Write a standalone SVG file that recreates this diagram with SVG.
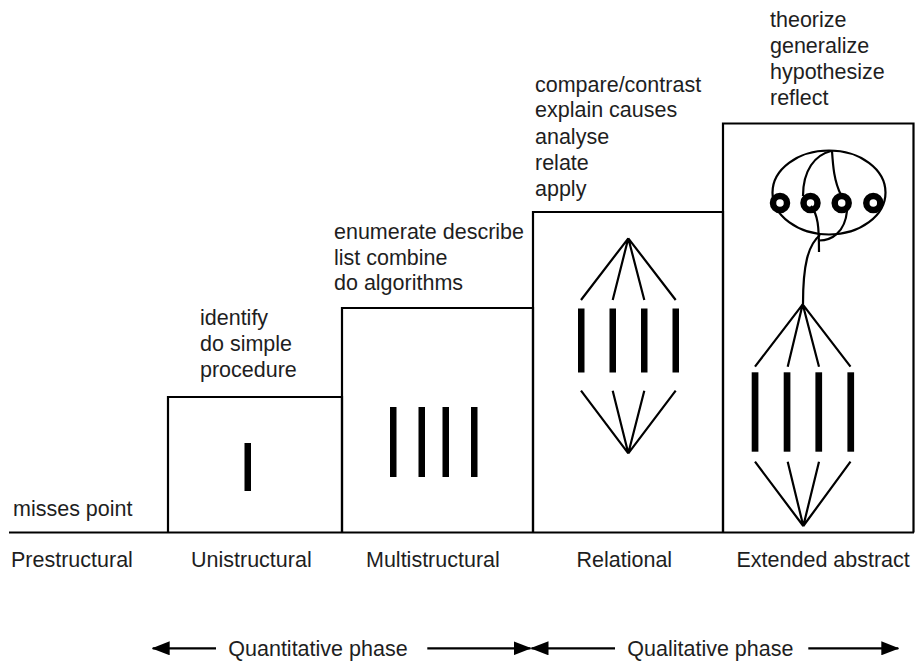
<svg xmlns="http://www.w3.org/2000/svg" width="917" height="663" viewBox="0 0 917 663">
<defs>
<style>
.t{font-family:"Liberation Sans",Arial,sans-serif;font-size:21.5px;fill:#1e1e1e}
.box{fill:none;stroke:#000;stroke-width:2.2}
.ln{fill:none;stroke:#000;stroke-width:2.2;stroke-linecap:butt}
.bar{fill:#000}
.ring{fill:none;stroke:#000;stroke-width:6.5}
</style>
<marker id="ah" viewBox="0 0 18 14" refX="17" refY="7" markerWidth="18" markerHeight="14" markerUnits="userSpaceOnUse" orient="auto-start-reverse">
<path d="M0,0 L18,7 L0,14 Z" fill="#000"/>
</marker>
</defs>
<rect width="917" height="663" fill="#fff"/>

<g id="baseline">
<line x1="9" y1="532.5" x2="914" y2="532.5" class="ln"/>
</g>

<g id="prestructural">
<text class="t" x="13" y="515.5">misses point</text>
<text class="t" x="11" y="566.5">Prestructural</text>
</g>

<g id="unistructural">
<path class="box" d="M168,532.5 V397 H342 V532.5"/>
<rect class="bar" x="244.5" y="443" width="6.5" height="48"/>
<text class="t" x="200" y="325">identify</text>
<text class="t" x="200" y="351">do simple</text>
<text class="t" x="200" y="377">procedure</text>
<text class="t" x="191" y="566.5">Unistructural</text>
</g>

<g id="multistructural">
<path class="box" d="M342,532.5 V308 H533 V532.5"/>
<rect class="bar" x="390" y="407" width="6.5" height="70"/>
<rect class="bar" x="418.5" y="407" width="6.5" height="70"/>
<rect class="bar" x="442.5" y="407" width="6.5" height="70"/>
<rect class="bar" x="471" y="407" width="6.5" height="70"/>
<text class="t" x="334" y="239">enumerate describe</text>
<text class="t" x="334" y="265">list combine</text>
<text class="t" x="334" y="290">do algorithms</text>
<text class="t" x="366" y="566.5">Multistructural</text>
</g>

<g id="relational">
<path class="box" d="M533,532.5 V212 H723 V532.5"/>
<path class="ln" d="M581,300 L628.3,238.3 L612.7,300 M644.3,300 L628.3,238.3 L675.7,300"/>
<rect class="bar" x="578" y="308.5" width="6.5" height="64"/>
<rect class="bar" x="609.5" y="308.5" width="6.5" height="64"/>
<rect class="bar" x="641" y="308.5" width="6.5" height="64"/>
<rect class="bar" x="672.5" y="308.5" width="6.5" height="64"/>
<path class="ln" d="M581,390.7 L628.3,453.3 L612.7,390.7 M644.3,390.7 L628.3,453.3 L675.7,390.7"/>
<text class="t" x="535" y="91.5">compare/contrast</text>
<text class="t" x="535" y="117">explain causes</text>
<text class="t" x="535" y="143.5">analyse</text>
<text class="t" x="535" y="169.5">relate</text>
<text class="t" x="535" y="195.5">apply</text>
<text class="t" x="576.5" y="566.5">Relational</text>
</g>

<g id="extended-abstract">
<path class="box" d="M723,532.5 V123.5 H913.5 V532.5"/>
<ellipse cx="829" cy="192.5" rx="56.5" ry="42" class="ln"/>
<path class="ln" d="M831,151 C815,155 803,170 803,196"/>
<path class="ln" d="M832,151 C833,166 834,181 841,195"/>
<path class="ln" d="M811,206 C818,215 819,226 819,252"/>
<path class="ln" d="M847,211 C845,232 832,240.5 819,240.5"/>
<path class="ln" d="M820,235 C808,245 803,265 803,304"/>
<circle class="ring" cx="780" cy="203" r="7"/>
<circle class="ring" cx="810.5" cy="203" r="7"/>
<circle class="ring" cx="841.7" cy="203" r="7"/>
<circle class="ring" cx="873.3" cy="203" r="7"/>
<path class="ln" d="M755,366.7 L802.7,304.3 L787.7,366.7 M819,366.7 L802.7,304.3 L850.5,366.7"/>
<rect class="bar" x="751.7" y="372.3" width="6.7" height="79.4"/>
<rect class="bar" x="783.7" y="372.3" width="6.7" height="79.4"/>
<rect class="bar" x="815.4" y="372.3" width="6.7" height="79.4"/>
<rect class="bar" x="847.4" y="372.3" width="6.7" height="79.4"/>
<path class="ln" d="M755,461.7 L803.3,526 L787.7,461.7 M819,461.7 L803.3,526 L850.5,461.7"/>
<text class="t" x="770" y="27">theorize</text>
<text class="t" x="770" y="53">generalize</text>
<text class="t" x="770" y="79">hypothesize</text>
<text class="t" x="770" y="105">reflect</text>
<text class="t" x="736.5" y="566.5">Extended abstract</text>
</g>

<g id="connectors">
<line class="ln" x1="216" y1="648.3" x2="152.7" y2="648.3" marker-end="url(#ah)"/>
<line class="ln" x1="427.3" y1="648.3" x2="530.5" y2="648.3" marker-end="url(#ah)"/>
<line class="ln" x1="615" y1="648.3" x2="531.5" y2="648.3" marker-end="url(#ah)"/>
<line class="ln" x1="808.3" y1="648.3" x2="898.3" y2="648.3" marker-end="url(#ah)"/>
</g>

<g id="phase-labels">
<text class="t" x="228.3" y="655.5">Quantitative phase</text>
<text class="t" x="627.3" y="655.5">Qualitative phase</text>
</g>
</svg>
